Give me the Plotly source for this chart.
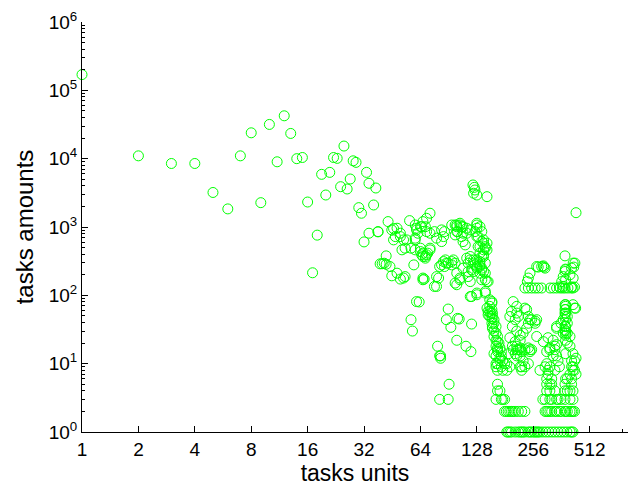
import numpy as np
import plotly.graph_objects as go

# ---- data (tasks units vs tasks amounts) ----
units_1 = [1, 2, 3, 4, 5, 6, 7, 8, 9, 10, 11, 12, 13, 14, 15, 16, 17, 18, 19, 20,
           21, 22, 23, 24, 25, 26, 27, 28, 29, 30, 31, 32, 33, 34, 34, 36, 37, 38, 38, 39,
           40, 41, 42, 42, 43, 44, 45, 45, 46, 46, 47, 48, 48, 50, 50, 50, 51, 52, 52, 53,
           53, 54, 56, 57, 60]
amounts_1 = [170000, 11000, 8500, 8500, 3200, 1840, 11000, 23900, 2270, 31700,
             9000, 42400, 23400, 10000, 10400, 2320, 214, 760, 5900, 2940,
             6300, 10400, 10100, 3890, 15300, 3600, 5040, 9300, 8830, 1920,
             1590, 605, 6300, 4360, 811, 2100, 3720, 848, 856, 289,
             290, 295, 378, 285, 1200, 264, 193, 907, 948, 648,
             724, 211, 960, 173, 724, 811, 463, 179, 648, 188,
             490, 648, 1240, 490, 463]

units_2 = [59, 60, 60, 60, 61, 61, 62, 64, 64, 64, 65, 65, 66, 66, 66, 66, 66, 67, 68, 68,
           68, 69, 69, 69, 70, 72, 72, 72, 72, 76, 76, 78, 78, 78, 80, 81, 83, 83, 83, 85,
           85, 86, 86, 87, 88, 90, 94, 94, 94, 96, 98, 98, 98, 98, 100, 100, 100, 100, 100, 101,
           104, 104, 104, 104, 106, 106, 108, 108, 108, 108, 111, 113, 113, 113, 115, 115, 115, 118, 118, 118,
           118, 118, 120, 120, 122, 123, 123, 123, 123, 124, 125, 125, 125, 128, 128, 128, 128, 128, 128, 128,
           128, 128, 128, 130, 130, 133, 133, 133, 133, 133, 133, 133, 136, 136, 136, 136, 136, 136, 139, 139,
           139, 139, 139, 139, 142, 142, 142, 142, 142, 142, 142, 145, 145, 145, 145, 147]
amounts_2 = [279, 686, 648, 1070, 907, 960, 811, 1010, 437, 490, 392, 1010, 370, 1200, 414, 179, 169, 173, 1010, 350,
             370, 392, 1340, 856, 414, 463, 1590, 811, 490, 856, 135, 686, 135, 188, 179, 264, 279, 612, 907, 724,
             312, 264, 856, 330, 296, 296, 279, 312, 1070, 330, 296, 766, 151, 1070, 1010, 856, 211, 143, 1070, 856,
             1070, 169, 1135, 179, 724, 1010, 612, 250, 811, 1010, 547, 811, 350, 960, 223, 296, 188, 907, 330, 370,
             96, 159, 236, 96, 4120, 3120, 296, 223, 330, 3800, 3480, 856, 279, 2940, 960, 264, 108, 102, 1135, 1070,
             724, 330, 250, 724, 517, 1010, 414, 264, 211, 279, 312, 517, 856, 612, 370, 169, 236, 250, 463, 648,
             370, 392, 580, 223, 296, 114, 108, 517, 490, 169, 211, 2780, 463, 580, 159, 159]

units_3 = [57, 58, 61, 63, 79, 81, 82, 82, 81, 88, 90, 91, 90, 93, 100, 103, 101, 112, 119, 120,
           145, 147, 147, 150, 150, 150, 150, 152, 154, 154, 154, 154, 154, 155, 155, 155, 155]
amounts_3 = [44, 30, 81, 80, 18, 13, 12, 13, 3, 44, 63, 5, 3, 34, 22, 45, 46, 18, 15, 38,
             65, 52, 58, 58, 49, 69, 86, 55, 62, 39, 46, 77, 81, 55, 49, 35, 33]

units_4 = [158, 158, 158, 158, 158, 162, 162, 162, 162, 162, 162, 162, 162, 165, 165, 165, 165, 165, 165, 165,
           165, 165, 168, 170, 170, 170, 170, 173, 173, 173, 173, 176, 176, 176, 180, 180, 185, 185, 189, 192,
           192, 192, 196, 198, 198, 200, 200, 205, 205, 205, 209, 209, 209, 209, 209, 209, 213, 213, 218, 218,
           218, 218, 218, 218, 222, 222, 222, 226, 226, 231, 231, 231, 236, 236, 241, 241, 241, 241, 246, 246,
           246, 251, 251, 262, 262, 267, 267, 278]
amounts_4 = [44, 30, 14, 39, 25, 35, 22, 9, 3, 28, 18, 13, 10, 25, 16, 17, 10, 5, 4, 21,
             15, 8, 20, 12, 11, 17, 4, 15, 9, 13, 3, 11, 8, 3, 10, 3, 8, 10, 14, 49,
             24, 9, 58, 35, 18, 81, 16, 44, 14, 21, 69, 55, 30, 18, 16, 13, 49, 16, 22, 17,
             13, 26, 16, 9, 15, 9, 8, 28, 11, 65, 9, 16, 62, 33, 49, 39, 10, 17, 44, 16,
             15, 16, 44, 39, 42, 44, 25, 8]

units_row1 = [185, 188, 192, 196, 205, 213, 218, 222, 226, 231, 241, 246, 251, 258, 262, 268, 272, 278,
              288, 299, 310, 322, 334, 347, 360, 373, 387, 402, 410, 417]
units_row2 = [180, 184, 188, 192, 196, 200, 205, 213, 222, 231, 296, 302, 307, 314, 321, 334, 341,
              353, 360, 378, 381, 389, 402, 410, 417, 425]
units_row3 = [288, 296, 314, 321, 341, 347, 360, 378, 402, 417]

units_6 = [231, 241, 251, 262, 272, 284, 315, 328, 341, 356, 367, 378, 392, 408, 417, 425, 353, 410, 370, 241,
           238, 246, 272, 292, 267, 284, 296, 290, 378, 427, 421, 380, 381, 418, 410, 378, 370, 402, 418, 363,
           381, 433]
amounts_6 = [128, 128, 128, 128, 128, 128, 128, 128, 128, 128, 128, 128, 128, 128, 128, 132, 133, 133, 135, 179,
             159, 211, 259, 259, 264, 264, 250, 270, 378, 296, 259, 242, 169, 296, 250, 223, 188, 200, 179, 159,
             237, 1620]

units_7 = [290, 296, 302, 302, 302, 302, 302, 307, 307, 307, 314, 314, 314, 314, 314, 321, 321, 327, 327, 334,
           334, 334, 334, 341, 341, 341, 341, 347, 353, 360, 370, 370, 378, 378, 378, 378, 378, 378, 378, 378,
           381, 381, 381, 381, 381, 381, 381, 381, 381, 381, 381, 381, 389, 389, 389, 389, 389, 389, 402, 402,
           402, 402, 410, 410, 410, 410, 417, 417, 417, 417, 417, 425, 425, 425, 431, 433, 433]
amounts_7 = [21, 9, 15, 10, 6, 5, 4, 24, 8, 7, 17, 16, 9, 5, 4, 6, 5, 22, 13, 18,
             16, 8, 4, 33, 35, 19, 13, 11, 9, 39, 44, 28, 31, 35, 49, 55, 62, 73, 5, 4,
             73, 69, 62, 55, 44, 35, 30, 28, 26, 22, 14, 6, 39, 28, 49, 20, 6, 4, 25, 18,
             7, 4, 11, 9, 6, 5, 73, 14, 9, 8, 4, 65, 11, 8, 65, 12, 7]

units = (units_1 + units_2 + units_3 + units_4 + units_row1 + units_row2
         + units_row3 + units_6 + units_7)
amounts = (amounts_1 + amounts_2 + amounts_3 + amounts_4 + [1] * len(units_row1)
           + [2] * len(units_row2) + [3] * len(units_row3) + amounts_6 + amounts_7)

x_tick_vals = [1, 2, 4, 8, 16, 32, 64, 128, 256, 512]
x_tick_text = ["1", "2", "4", "8", "16", "32", "64", "128", "256", "512"]
y_tick_vals = [1, 10, 100, 1000, 10000, 100000, 1000000]
y_tick_text = ["10<sup>0</sup>", "10<sup>1</sup>", "10<sup>2</sup>", "10<sup>3</sup>",
               "10<sup>4</sup>", "10<sup>5</sup>", "10<sup>6</sup>"]
y_minor_vals = [d * 10 ** k for k in range(6) for d in range(2, 10)]
x_minor_vals = [768]

fig = go.Figure(go.Scatter(
    x=units, y=amounts, mode="markers", cliponaxis=False,
    marker=dict(symbol="circle-open", size=10, color="#00ff00",
                line=dict(width=1, color="#00ff00")),
))

axis_common = dict(
    type="log", showgrid=False, zeroline=False, showline=True,
    linecolor="black", linewidth=1, mirror=False, automargin=False,
    ticks="inside", ticklen=6, tickwidth=1, tickcolor="black",
    tickmode="array", tickfont=dict(size=19, color="black"),
)

fig.update_layout(
    width=638, height=490,
    margin=dict(l=82, r=10, t=22, b=58, autoexpand=False),
    paper_bgcolor="white", plot_bgcolor="white",
    showlegend=False,
    font=dict(family="Liberation Sans, Arial, sans-serif", color="black"),
    xaxis=dict(**axis_common, range=[0, np.log10(820)],
               tickvals=x_tick_vals, ticktext=x_tick_text,
               minor=dict(tickmode="array", tickvals=x_minor_vals, ticks="inside",
                          ticklen=3, tickcolor="black"),
               title=dict(text="tasks units", font=dict(size=23), standoff=0)),
    yaxis=dict(**axis_common, range=[0, 6],
               tickvals=y_tick_vals, ticktext=y_tick_text,
               minor=dict(tickmode="array", tickvals=y_minor_vals, ticks="inside",
                          ticklen=3, tickcolor="black"),
               title=dict(text="tasks amounts", font=dict(size=24), standoff=8)),
)

fig.write_html("out.html", post_script="document.body.style.margin='0';",
               config={"displayModeBar": False})
